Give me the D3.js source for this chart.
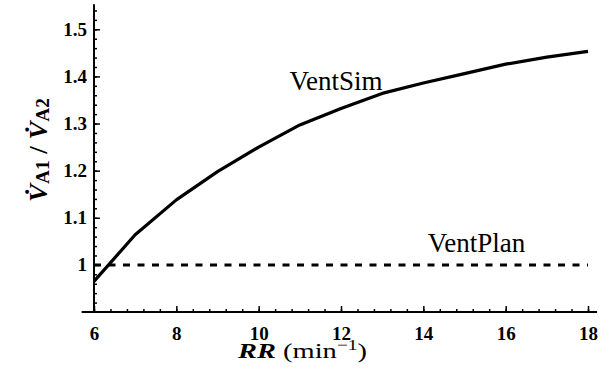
<!DOCTYPE html>
<html>
<head>
<meta charset="utf-8">
<script src="https://cdn.jsdelivr.net/npm/d3@7"></script>
<style>
  body { margin: 0; background: #fff; }
  svg { display: block; }
</style>
</head>
<body>
<script>
// data
const rr = [6, 7, 8, 9, 10, 11, 12, 13, 14, 15, 16, 17, 18];
const ventSim = [0.965, 1.064, 1.138, 1.198, 1.250, 1.297, 1.332, 1.364, 1.386, 1.406, 1.426, 1.441, 1.453];
const ventPlan = [1, 1, 1, 1, 1, 1, 1, 1, 1, 1, 1, 1, 1];
const xTicks = [6, 8, 10, 12, 14, 16, 18];
const xTickLabels = ["6", "8", "10", "12", "14", "16", "18"];
const yTicks = [1, 1.1, 1.2, 1.3, 1.4, 1.5];
const yTickLabels = ["1", "1.1", "1.2", "1.3", "1.4", "1.5"];

const width = 610;
const height = 370;
const font = "Liberation Serif, DejaVu Serif, serif";

const svg = d3.select("body")
    .append("svg")
    .attr("width", width)
    .attr("height", height);

const x = d3.scaleLinear().domain([6, 18]).range([94, 588]);
const y = d3.scaleLinear().domain([0.9, 1.5]).range([312, 29.3]);

// minor ticks
svg.append("g")
    .attr("transform", "translate(0," + y(0.9) + ")")
    .call(d3.axisBottom(x).tickValues(d3.range(6, 18.01, 0.4)).tickSize(-3).tickFormat(""))
    .call(g => g.select(".domain").remove());
svg.append("g")
    .attr("transform", "translate(" + x(6) + ",0)")
    .call(d3.axisLeft(y).tickValues(d3.range(0.92, 1.545, 0.02)).tickSize(-3).tickFormat(""))
    .call(g => g.select(".domain").remove());

// x axis
const xAxis = svg.append("g")
    .attr("transform", "translate(0," + y(0.9) + ")")
    .call(d3.axisBottom(x).tickValues(xTicks).tickSize(-6).tickPadding(15)
        .tickFormat((d, i) => xTickLabels[i]));
xAxis.select(".domain").remove();
xAxis.append("line")
    .attr("x1", x(5.7)).attr("x2", x(18.22))
    .attr("stroke", "#000").attr("stroke-width", 2);

// y axis
const yAxis = svg.append("g")
    .attr("transform", "translate(" + x(6) + ",0)")
    .call(d3.axisLeft(y).tickValues(yTicks).tickSize(-6).tickPadding(7)
        .tickFormat((d, i) => yTickLabels[i]));
yAxis.select(".domain").remove();
yAxis.append("line")
    .attr("y1", y(0.9)).attr("y2", y(1.553))
    .attr("stroke", "#000").attr("stroke-width", 2);

svg.selectAll(".tick line").attr("stroke", "#000").attr("stroke-width", 1.5);
svg.selectAll(".tick text")
    .attr("fill", "#000")
    .attr("font-family", font)
    .attr("font-weight", "bold")
    .attr("font-size", "19px");

// curves
const line = d3.line()
    .x((d, i) => x(rr[i]))
    .y(d => y(d));

svg.append("path")
    .datum(ventPlan)
    .attr("fill", "none")
    .attr("stroke", "#000")
    .attr("stroke-width", 3)
    .attr("stroke-dasharray", "7,7.5")
    .attr("d", line);

svg.append("path")
    .datum(ventSim)
    .attr("fill", "none")
    .attr("stroke", "#000")
    .attr("stroke-width", 3.2)
    .attr("stroke-linejoin", "round")
    .attr("d", line);

// series labels
svg.append("text")
    .attr("x", x(10.75))
    .attr("y", y(1.371))
    .attr("font-family", font)
    .attr("font-size", "27px")
    .text("VentSim");

svg.append("text")
    .attr("x", x(14.11))
    .attr("y", y(1.0276))
    .attr("font-family", font)
    .attr("font-size", "27px")
    .text("VentPlan");

// x axis title
const xt = svg.append("text")
    .attr("x", 238)
    .attr("y", 358)
    .attr("font-family", font)
    .attr("font-size", "22px")
    .attr("textLength", 129)
    .attr("lengthAdjust", "spacingAndGlyphs");
xt.append("tspan").attr("font-style", "italic").attr("font-weight", "bold").text("RR");
xt.append("tspan").text(" (min");
xt.append("tspan").attr("font-size", "15px").attr("dy", -8).text("\u22121");
xt.append("tspan").attr("dy", 8).text(")");

// y axis title
const yt = svg.append("text")
    .attr("transform", "translate(47,202) rotate(-90)")
    .attr("font-family", font)
    .attr("font-weight", "bold")
    .attr("font-size", "25px")
    .attr("textLength", 104)
    .attr("lengthAdjust", "spacingAndGlyphs");
yt.append("tspan").attr("font-style", "italic").text("V\u0307");
yt.append("tspan").attr("font-size", "18px").attr("dy", 2).text("A1");
yt.append("tspan").attr("dy", -2).text(" / ");
yt.append("tspan").attr("font-style", "italic").text("V\u0307");
yt.append("tspan").attr("font-size", "18px").attr("dy", 2).text("A2");
</script>
</body>
</html>
